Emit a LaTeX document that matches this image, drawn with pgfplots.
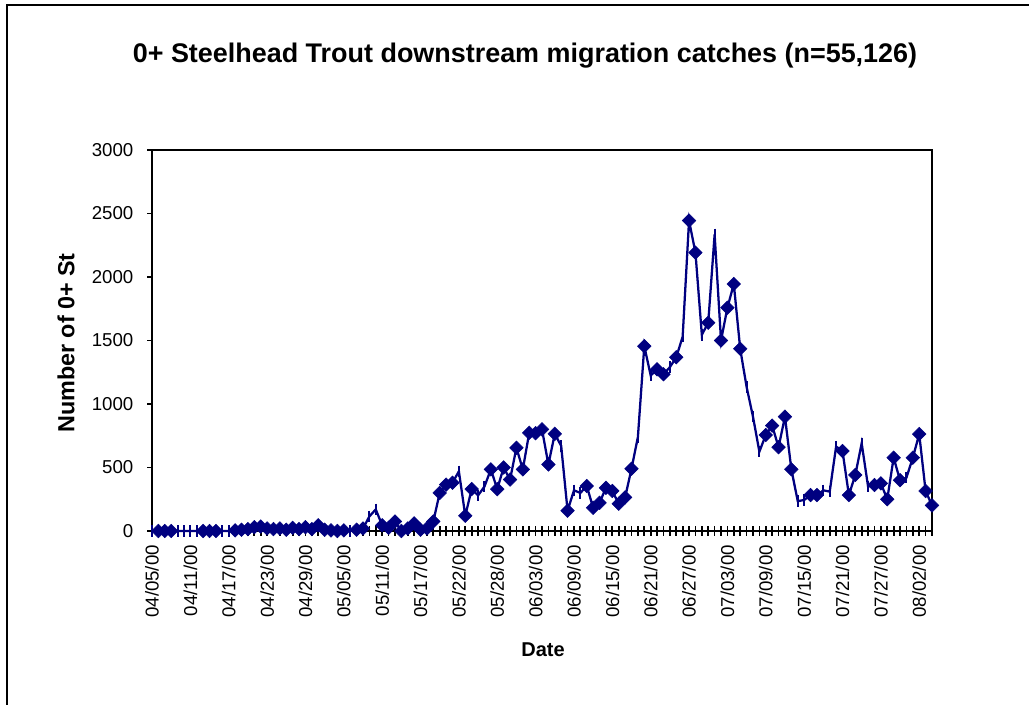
\documentclass[border=0pt]{standalone}
\usepackage{pgfplots}
\pgfplotsset{compat=1.18}
\usepackage{pgfplotstable}
\usepackage{fontspec}
\setmainfont{Liberation Sans}
\definecolor{xlnavy}{RGB}{0,0,128}

% daily catch; c: 1 = diamond marker, 0 = dash marker
\pgfplotstableread{
i v c
0 0 0
1 0 1
2 0 1
3 0 1
4 0 0
5 0 0
6 0 0
7 0 0
8 0 1
9 0 1
10 0 1
11 0 0
12 0 0
13 5 1
14 10 1
15 15 1
16 30 1
17 35 1
18 20 1
19 15 1
20 20 1
21 10 1
22 25 1
23 15 1
24 30 1
25 15 1
26 45 1
27 10 1
28 5 1
29 0 1
30 5 1
31 0 0
32 10 1
33 20 1
34 115 0
35 170 0
36 45 1
37 25 1
38 75 1
39 0 1
40 20 1
41 60 1
42 10 1
43 20 1
44 75 1
45 300 1
46 365 1
47 380 1
48 470 0
49 120 1
50 330 1
51 280 0
52 350 0
53 485 1
54 330 1
55 500 1
56 405 1
57 655 1
58 485 1
59 773 1
60 770 1
61 800 1
62 524 1
63 765 1
64 670 0
65 160 1
66 320 0
67 300 0
68 354 1
69 183 1
70 222 1
71 340 1
72 315 1
73 215 1
74 265 1
75 490 1
76 740 0
77 1455 1
78 1225 0
79 1273 1
80 1234 1
81 1290 0
82 1368 1
83 1530 0
84 2444 1
85 2192 1
86 1545 0
87 1640 1
88 2335 0
89 1500 1
90 1758 1
91 1945 1
92 1435 1
93 1135 0
94 900 0
95 625 0
96 756 1
97 830 1
98 660 1
99 900 1
100 486 1
101 235 0
102 244 0
103 283 1
104 283 1
105 320 0
106 310 0
107 665 0
108 630 1
109 283 1
110 441 1
111 690 0
112 350 0
113 362 1
114 375 1
115 250 1
116 577 1
117 400 1
118 420 0
119 577 1
120 763 1
121 315 1
122 202 1
}\catches

\begin{document}
\begin{tikzpicture}[x=0.75pt,y=-0.75pt]
\useasboundingbox (0,0) rectangle (1029,705);
\draw[line width=1.5pt] (7,710) -- (7,5) -- (1035,5);
\coordinate (o) at (152,531);
\begin{axis}[
    at={(o)}, anchor=south west,
    scale only axis,
    width=585pt, height=285.75pt,
    xmin=0, xmax=122,
    ymin=0, ymax=3000,
    clip=false,
    axis line style={line width=1.4pt},
    tick pos=left,
    xtick={0,...,122},
    xticklabels={},
    xtick align=center,
    ytick align=outside,
    major tick length=7.5pt,
    ytick style={/pgfplots/major tick length=3.75pt},
    every tick/.style={black, line width=1.3pt},
    ytick={0,500,...,3000},
    extra x ticks={0,6,...,120},
    extra x tick labels={04/05/00,04/11/00,04/17/00,04/23/00,04/29/00,05/05/00,05/11/00,05/17/00,05/22/00,05/28/00,06/03/00,06/09/00,06/15/00,06/21/00,06/27/00,07/03/00,07/09/00,07/15/00,07/21/00,07/27/00,08/02/00},
    extra x tick style={major tick length=0pt},
    xticklabel style={rotate=90, anchor=east, xshift=-7pt, font=\fontsize{14}{16}\selectfont},
    yticklabel style={xshift=-3pt, font=\fontsize{14}{16}\selectfont},
    /pgf/number format/assume math mode=true,
    /pgf/number format/1000 sep={},
]
% line through every day
\addplot[xlnavy, line width=1.7pt, mark=none] table[x=i, y=v] {\catches};
% dash markers
\addplot[only marks, mark=|, mark size=4.3pt, mark options={draw=xlnavy, line width=1.5pt},
    restrict expr to domain={\thisrow{c}}{0:0}] table[x=i, y=v] {\catches};
% diamond markers
\addplot[only marks, mark=square*, mark size=3.6pt,
    mark options={rotate=45, fill=xlnavy, draw=xlnavy, line width=0.4pt},
    restrict expr to domain={\thisrow{c}}{1:1}] table[x=i, y=v] {\catches};
\end{axis}
\node[font=\bfseries\fontsize{20.2}{23}\selectfont] at (525,56) {0+ Steelhead Trout downstream migration catches (n=55,126)};
\node[font=\bfseries\fontsize{17.5}{20}\selectfont, rotate=90] at (66,343) {Number of 0+ St};
\node[font=\bfseries\fontsize{15}{18}\selectfont] at (543,650) {Date};
\end{tikzpicture}
\end{document}
